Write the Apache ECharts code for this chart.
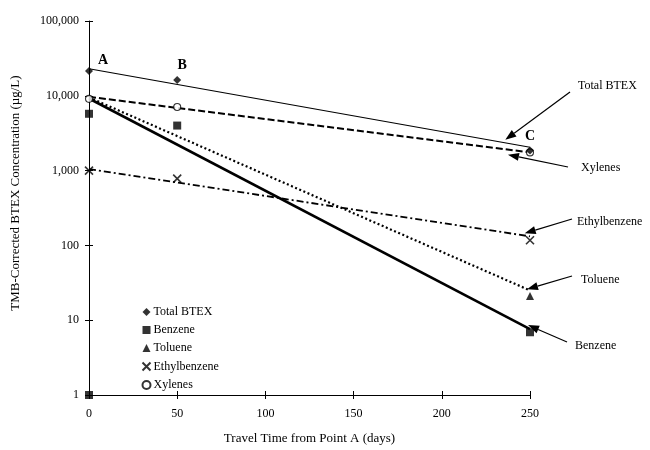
<!DOCTYPE html>
<html><head><meta charset="utf-8">
<script src="https://cdn.jsdelivr.net/npm/echarts@6/dist/echarts.min.js"></script>
<style>html,body{margin:0;padding:0;background:#fff}#c{width:650px;height:450px}</style>
</head><body><div id="c"></div>
<script>
// ---- data ----
const xTicks = [0, 50, 100, 150, 200, 250];
const yTicks = [1, 10, 100, 1000, 10000, 100000];
const seriesNames = ['Total BTEX', 'Benzene', 'Toluene', 'Ethylbenzene', 'Xylenes'];
const totalBtexPts = [[0, 21500], [50, 16300], [250, 1850]];
const benzenePts = [[0, 5750], [50, 4000], [250, 6.9], [0, 1]];
const toluenePts = [[250, 21]];
const ethylbenzenePts = [[0, 1000], [50, 780], [250, 117]];
const xylenesPts = [[0, 9100], [50, 7100], [250, 1750]];
const totalBtexFit = [[0, 23000], [250, 2050]];
const benzeneFit = [[0, 9200], [250, 7.6]];
const tolueneFit = [[0, 9500], [250, 25]];
const ethylbenzeneFit = [[0, 1050], [250, 132]];
const xylenesFit = [[0, 9700], [250, 1750]];
const pointLabels = ['A', 'B', 'C'];
const calloutNames = ['Total BTEX', 'Xylenes', 'Ethylbenzene', 'Toluene', 'Benzene'];
const calloutTargets = [[236, 2590], [237.5, 1635], [247, 145], [248.3, 26], [248.9, 8.6]];

// ---- layout ----
const FONT = '"Liberation Serif", "DejaVu Serif", serif';
const calloutTails = [[570, 92], [568, 167], [572, 219], [572, 276], [567, 342]];
const calloutTextPos = [[578, 86], [581, 168], [577, 222], [581, 280], [575, 346]];
const pointLabelOffsets = [[14, -11], [5, -15], [0, -14]];

const chart = echarts.init(document.getElementById('c'), null, {renderer: 'canvas'});
const black = '#000';
const xMark = 'path://M0,0 L10,10 M10,0 L0,10';

function scatter(name, data, symbol, size, extra) {
  return Object.assign({
    name: name, type: 'scatter', data: data, symbol: symbol, symbolSize: size,
    clip: false, z: 5,
    itemStyle: {color: black}
  }, extra || {});
}
function fit(name, data, width, type) {
  return {
    name: name, type: 'line', data: data, symbol: 'none', clip: false,
    lineStyle: {color: black, width: width, type: type}, silent: true, z: 3
  };
}

const axisCommon = {
  axisLine: {show: true, lineStyle: {color: black, width: 1}},
  splitLine: {show: false}
};

chart.setOption({
  animation: false,
  backgroundColor: '#fff',
  textStyle: {fontFamily: FONT, color: black},
  grid: {left: 89, right: 120, top: 21, bottom: 53},
  xAxis: [
    Object.assign({
      type: 'value', min: 0, max: 250, interval: 50,
      axisTick: {show: true, length: 4, lineStyle: {color: black}},
      axisLabel: {fontFamily: FONT, fontSize: 12, color: black, margin: 13,
        customValues: xTicks},
      name: 'Travel Time from Point A (days)', nameLocation: 'middle', nameGap: 37,
      nameTextStyle: {fontFamily: FONT, fontSize: 13, color: black}
    }, axisCommon),
    {
      type: 'value', min: 0, max: 250, interval: 50, position: 'bottom',
      axisLine: {show: false}, splitLine: {show: false}, axisLabel: {show: false},
      axisTick: {show: true, inside: true, length: 4, lineStyle: {color: black}}
    }
  ],
  yAxis: [
    Object.assign({
      type: 'log', logBase: 10, min: 1, max: 100000,
      axisTick: {show: true, length: 4, lineStyle: {color: black}},
      minorTick: {show: false},
      axisLabel: {fontFamily: FONT, fontSize: 12, color: black, margin: 10,
        formatter: v => Number(v).toLocaleString('en-US')},
      name: 'TMB-Corrected BTEX Concentration (µg/L)', nameLocation: 'middle', nameGap: 67,
      nameTextStyle: {fontFamily: FONT, fontSize: 13, color: black, padding: [0, 0, 0, 30]}
    }, axisCommon),
    {
      type: 'log', logBase: 10, min: 1, max: 100000, position: 'left',
      axisLine: {show: false}, splitLine: {show: false}, axisLabel: {show: false},
      axisTick: {show: true, inside: true, length: 4, lineStyle: {color: black}}
    }
  ],
  legend: {
    data: seriesNames, orient: 'vertical', left: 140, top: 306, padding: 0,
    itemWidth: 8, itemHeight: 8, itemGap: 6, selectedMode: false,
    textStyle: {fontFamily: FONT, fontSize: 12, color: black, padding: [0, 0, 0, -2]}
  },
  series: [
    fit('Total BTEX fit', totalBtexFit, 1.2, 'solid'),
    fit('Xylenes fit', xylenesFit, 2, [7, 3]),
    fit('Benzene fit', benzeneFit, 2.6, 'solid'),
    fit('Toluene fit', tolueneFit, 2.2, [2, 2.5]),
    fit('Ethylbenzene fit', ethylbenzeneFit, 1.8, [7, 3, 2, 3]),
    scatter('Xylenes', xylenesPts, 'circle', 7,
      {itemStyle: {color: '#fff', borderColor: black, borderWidth: 1.1}}),
    scatter('Total BTEX', totalBtexPts, 'diamond', 8),
    scatter('Benzene', benzenePts, 'rect', 8),
    scatter('Toluene', toluenePts, 'triangle', 8),
    scatter('Ethylbenzene', ethylbenzenePts, xMark, 8,
      {itemStyle: {color: 'none', borderColor: black, borderWidth: 1.6}})
  ]
});

// ---- annotations ----
const g = [];
pointLabels.forEach((t, i) => {
  const p = chart.convertToPixel({xAxisIndex: 0, yAxisIndex: 0}, totalBtexPts[i]);
  g.push({type: 'text', x: p[0] + pointLabelOffsets[i][0], y: p[1] + pointLabelOffsets[i][1],
    style: {text: t, font: 'bold 14px ' + FONT, fill: black, textAlign: 'center', textVerticalAlign: 'middle'}});
});
calloutNames.forEach((t, i) => {
  const head = chart.convertToPixel({xAxisIndex: 0, yAxisIndex: 0}, calloutTargets[i]);
  const tail = calloutTails[i];
  const dx = head[0] - tail[0], dy = head[1] - tail[1];
  const L = Math.hypot(dx, dy), ux = dx / L, uy = dy / L;
  const al = 11, aw = 4;
  const bx = head[0] - ux * al, by = head[1] - uy * al;
  g.push({type: 'line', shape: {x1: tail[0], y1: tail[1], x2: bx, y2: by},
    style: {stroke: black, lineWidth: 1.2}});
  g.push({type: 'polygon', shape: {points: [head, [bx - uy * aw, by + ux * aw], [bx + uy * aw, by - ux * aw]]},
    style: {fill: black}});
  g.push({type: 'text', x: calloutTextPos[i][0], y: calloutTextPos[i][1],
    style: {text: t, font: '12px ' + FONT, fill: black, textAlign: 'left', textVerticalAlign: 'middle'}});
});
chart.setOption({graphic: g});
</script>
</body></html>
